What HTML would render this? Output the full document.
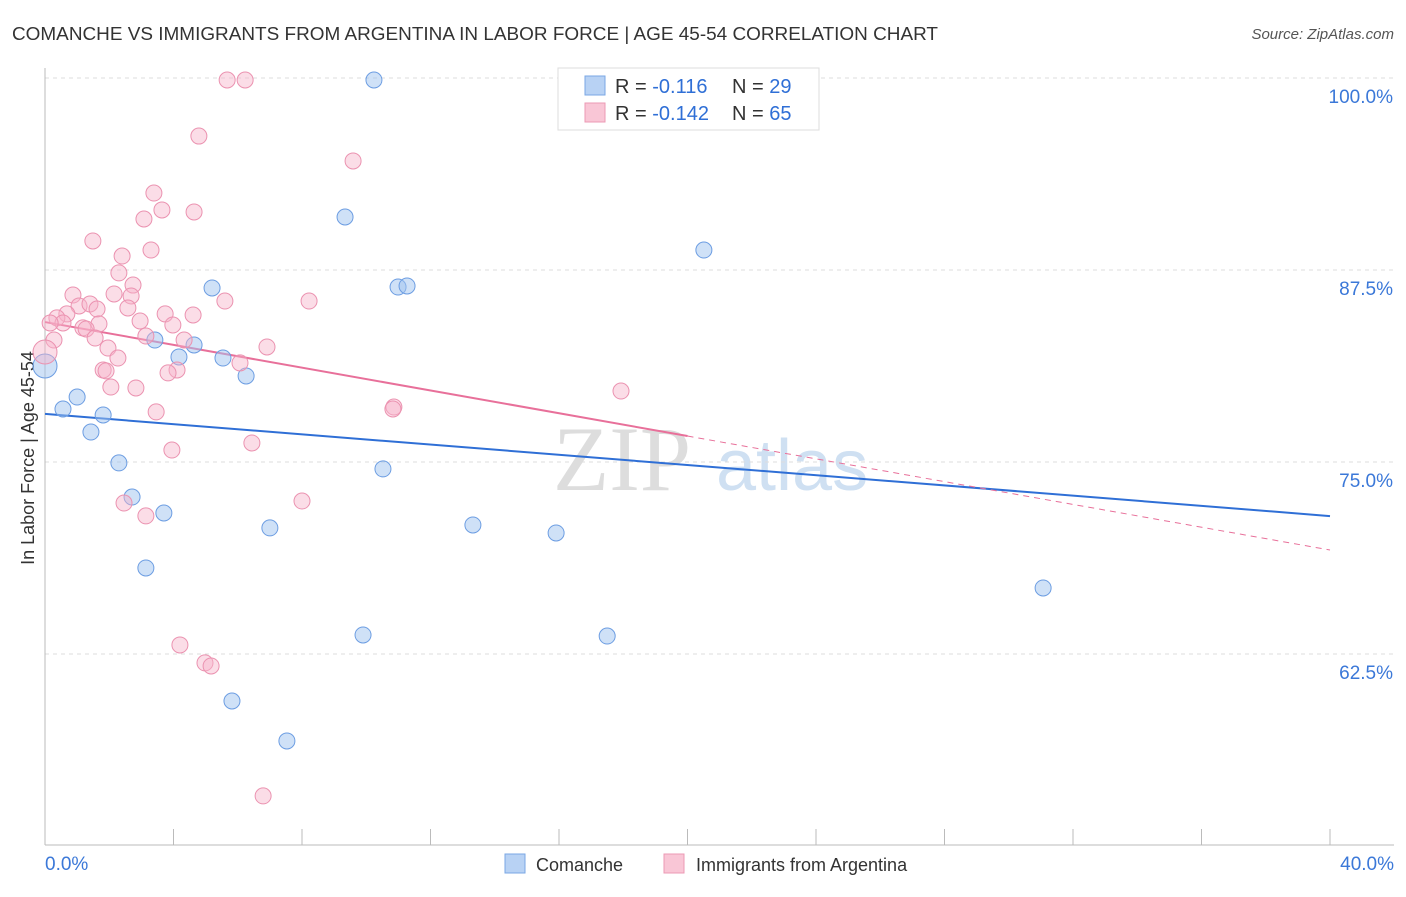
<!DOCTYPE html>
<html><head><meta charset="utf-8"><style>
body{margin:0;background:#fff;font-family:"Liberation Sans",sans-serif;}
</style></head><body>
<svg id="c" width="1406" height="892" xmlns="http://www.w3.org/2000/svg">
<text x="12" y="40" font-size="18" fill="#333" textLength="926" lengthAdjust="spacingAndGlyphs">COMANCHE VS IMMIGRANTS FROM ARGENTINA IN LABOR FORCE | AGE 45-54 CORRELATION CHART</text>
<text x="1394" y="39" font-size="15" fill="#555" font-style="italic" text-anchor="end">Source: ZipAtlas.com</text>
<text x="34" y="458" font-size="18" fill="#333" text-anchor="middle" transform="rotate(-90 34 458)">In Labor Force | Age 45-54</text>
<text x="553" y="490" font-size="92" fill="#ddd" font-family="Liberation Serif,serif">ZIP</text>
<text x="716" y="490" font-size="72" fill="#cfe0f2">atlas</text>
<g id="grid"></g><g id="lines"></g><g id="pts"></g>
<g>
<rect x="558" y="68" width="261" height="62" fill="#fff" stroke="#ddd"/>
<rect x="585" y="76" width="20" height="19" fill="#b8d2f4" stroke="#7aa7e4"/>
<rect x="585" y="103" width="20" height="19" fill="#f9c6d6" stroke="#ec9ab4"/>
<text x="615" y="93" font-size="20" fill="#333">R = <tspan fill="#2f6fd6"> -0.116</tspan></text>
<text x="732" y="93" font-size="20" fill="#333">N = <tspan fill="#2f6fd6">29</tspan></text>
<text x="615" y="120" font-size="20" fill="#333">R = <tspan fill="#2f6fd6">-0.142</tspan></text>
<text x="732" y="120" font-size="20" fill="#333">N = <tspan fill="#2f6fd6">65</tspan></text>
</g>
<rect x="505" y="854" width="20" height="19" fill="#b8d2f4" stroke="#7aa7e4"/>
<text x="536" y="871" font-size="18" fill="#333">Comanche</text>
<rect x="664" y="854" width="20" height="19" fill="#f9c6d6" stroke="#ec9ab4"/>
<text x="696" y="871" font-size="18" fill="#333">Immigrants from Argentina</text>
</svg>
<script>
const blueX=[10.24,9.34,20.51,5.20,10.99,11.27,3.42,4.17,4.64,5.54,6.26,0,0.56,1.00,1.81,1.43,2.30,10.52,2.71,3.70,7.00,13.32,15.91,3.14,31.07,9.90,17.50,5.82,7.53];
const blueY=[99.87,90.95,88.80,86.33,86.39,86.46,82.94,81.84,82.62,81.77,80.60,81.25,78.45,79.23,78.06,76.95,74.94,74.55,72.72,71.68,70.71,70.90,70.38,68.10,66.80,63.74,63.67,59.44,56.84];
const pinkX=[5.67,6.23,4.79,9.59,3.39,3.08,3.64,4.64,1.49,3.30,2.40,2.30,2.74,0.87,2.15,2.68,1.06,1.40,1.62,2.58,8.22,5.60,3.74,4.61,0.68,0.37,0.56,0.16,1.68,2.96,3.98,1.18,1.28,3.14,4.33,1.56,0.28,0,1.96,6.91,2.27,6.07,1.81,1.90,4.11,3.83,2.05,2.83,17.93,10.86,10.83,3.46,3.95,6.44,2.46,8.00,3.14,4.20,4.98,5.17,6.79];
const pinkY=[99.87,99.87,96.22,94.60,92.51,90.82,91.41,91.28,89.39,88.80,88.41,87.31,86.52,85.87,85.94,85.81,85.16,85.29,84.96,85.03,85.48,85.48,84.64,84.57,84.64,84.38,84.05,84.05,83.99,84.18,83.92,83.73,83.66,83.20,82.94,83.07,82.94,82.16,82.42,82.49,81.77,81.45,80.99,80.93,80.99,80.80,79.88,79.82,79.62,78.58,78.45,78.26,75.78,76.24,72.33,72.46,71.49,63.09,61.92,61.72,53.26];
const yTicks=[100,87.5,75,62.5];
const yTickLabels=["100.0%","87.5%","75.0%","62.5%"];
const blueLine=[78.13,71.48];
const pinkLine=[84.11,69.27];
const pinkSolidEnd=20;
const NS="http://www.w3.org/2000/svg";
const sx=v=>45+v/40*1285;
const sy=v=>78+(100-v)/12.5*192;
function mk(tag,attrs,parent){const e=document.createElementNS(NS,tag);for(const k in attrs)e.setAttribute(k,attrs[k]);document.getElementById(parent).appendChild(e);return e;}
yTicks.forEach((t,i)=>{
 const g=mk('line',{x1:45,x2:1394,y1:sy(t),y2:sy(t),stroke:'#ddd','stroke-dasharray':'4,4'},'grid');
 
 
 const l=mk('text',{x:1393,y:sy(t)+25,'font-size':19,fill:'#3b78d8','text-anchor':'end'},'grid');
 l.textContent=yTickLabels[i];
 
 
});
const ax=mk('line',{x1:45,x2:45,y1:68,y2:845,stroke:'#bbb'},'grid');


const bx=mk('line',{x1:45,x2:1394,y1:845,y2:845,stroke:'#bbb'},'grid');


for(let i=0;i<=10;i++){const t=mk('line',{x1:sx(i*4),x2:sx(i*4),y1:829,y2:845,stroke:'#bbb'},'grid');
 
 }
const xl0=mk('text',{x:45,y:870,'font-size':19,fill:'#3b78d8'},'grid');xl0.textContent='0.0%';


const xl1=mk('text',{x:1394,y:870,'font-size':19,fill:'#3b78d8','text-anchor':'end'},'grid');xl1.textContent='40.0%';


blueX.forEach((x,i)=>{const c=mk('circle',{cx:sx(x),cy:sy(blueY[i]),r:i==11?12:8,fill:'rgba(160,195,240,0.5)',stroke:'#6c9de2','stroke-width':1},'pts');
 
 });
pinkX.forEach((x,i)=>{const c=mk('circle',{cx:sx(x),cy:sy(pinkY[i]),r:i==37?12:8,fill:'rgba(246,180,202,0.45)',stroke:'#eb92b0','stroke-width':1},'pts');
 
 });
const bl=mk('line',{x1:sx(0),y1:sy(blueLine[0]),x2:sx(40),y2:sy(blueLine[1]),stroke:'#2f6fd6','stroke-width':2},'lines');


const pm=pinkLine[0]+(pinkLine[1]-pinkLine[0])*pinkSolidEnd/40;
const pl=mk('line',{x1:sx(0),y1:sy(pinkLine[0]),x2:sx(pinkSolidEnd),y2:sy(pm),stroke:'#e8709a','stroke-width':2},'lines');


const pd=mk('line',{x1:sx(pinkSolidEnd),y1:sy(pm),x2:sx(40),y2:sy(pinkLine[1]),stroke:'#e8709a','stroke-width':1,'stroke-dasharray':'6,5'},'lines');


</script>
</body></html>
